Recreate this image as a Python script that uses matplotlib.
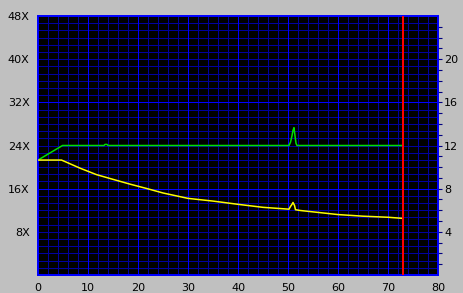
import numpy as np
import matplotlib
matplotlib.use("Agg")
import matplotlib.pyplot as plt

# ---- data ----
green_x = [0, 4.9, 13.2, 13.4, 13.8, 14.0, 50.2, 50.5, 50.8, 51.0, 51.2, 51.4, 51.6, 51.8, 72.9]
green_v = [21.3, 24.0, 24.0, 24.2, 24.2, 24.0, 24.0, 24.6, 25.8, 26.8, 27.3, 25.8, 24.4, 24.0, 24.0]  # in X (left axis)

yellow_x = [0, 4.7, 5.7, 8.4, 11.7, 15.1, 18.4, 21.7, 25, 30, 35, 40, 45, 50.2,
            50.5, 50.8, 51.0, 51.3, 51.5, 52.4, 56, 60, 65, 70, 72.9]
yellow_v = [10.65, 10.65, 10.45, 9.9, 9.3, 8.85, 8.42, 8.02, 7.6, 7.1, 6.85, 6.55, 6.27, 6.1,
            6.35, 6.55, 6.72, 6.45, 6.05, 5.98, 5.8, 5.6, 5.45, 5.35, 5.25]  # right axis units

marker_x = 73.0

x_ticks = [0, 10, 20, 30, 40, 50, 60, 70, 80]
left_ticks = [8, 16, 24, 32, 40, 48]
left_labels = ["8X", "16X", "24X", "32X", "40X", "48X"]
right_ticks = [4, 8, 12, 16, 20]
right_labels = ["4", "8", "12", "16", "20"]

# ---- figure ----
W, H = 463, 293
fig = plt.figure(figsize=(W / 100, H / 100), dpi=100, facecolor="#C0C0C0")
ax = fig.add_axes([38 / W, 1 - 275 / H, 400 / W, 259 / H])
ax.set_facecolor("black")
ax.set_xlim(0, 80)
ax.set_ylim(0, 48)

minor_c = "#0000A0"
major_c = "#0000FF"
px = 0.72
for xv in np.arange(2, 80, 2):
    ax.axvline(xv, color=minor_c, lw=px, zorder=1, antialiased=False)
for yv in np.arange(4 / 3, 48, 4 / 3):
    ax.axhline(yv, color=minor_c, lw=px, zorder=1, antialiased=False)
for xv in x_ticks[1:-1]:
    ax.axvline(xv, color=major_c, lw=px, zorder=1.5, antialiased=False)
for yv in [16, 32]:
    ax.axhline(yv, color=major_c, lw=px, zorder=1.5, antialiased=False)

ax.plot(green_x, green_v, color="#00E000", lw=1.1, zorder=3)

ax.set_xticks(x_ticks)
ax.set_xticklabels([str(v) for v in x_ticks])
ax.set_yticks(left_ticks)
ax.set_yticklabels(left_labels)
ax.tick_params(axis="x", length=0, pad=6, labelsize=8, colors="black")
ax.tick_params(axis="y", length=0, pad=6, labelsize=8, colors="black")

ax2 = ax.twinx()
ax2.set_ylim(0, 24)
ax2.plot(yellow_x, yellow_v, color="#FFFF00", lw=1.1, zorder=3)
ax2.axvspan(marker_x - 0.12, marker_x + 0.12, color="#FF0000", lw=0, zorder=4,
            antialiased=False)
ax2.set_yticks(right_ticks)
ax2.set_yticklabels(right_labels)
ax2.set_yticks(np.arange(1, 24, 1), minor=True)
ax2.tick_params(axis="y", which="both", length=3, width=0.8, color="#000080",
                pad=1.5, labelsize=8, labelcolor="black")

for a in (ax, ax2):
    for s in a.spines.values():
        s.set_color("#0000FF")
        s.set_linewidth(1.3)

fig.savefig("out.png", dpi=100, facecolor=fig.get_facecolor())
